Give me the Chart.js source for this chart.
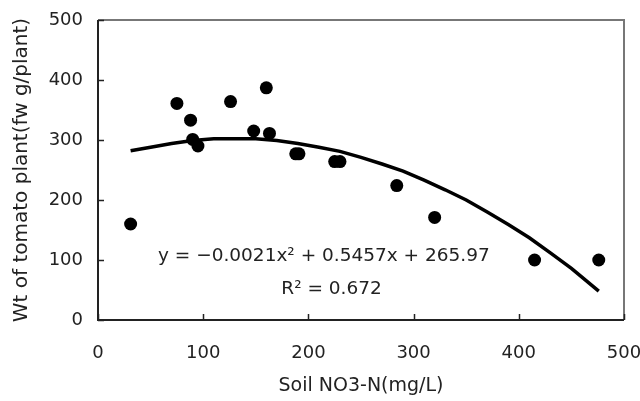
<!DOCTYPE html>
<html>
<head>
<meta charset="utf-8">
<script src="https://cdn.jsdelivr.net/npm/chart.js@4.4.1/dist/chart.umd.min.js"></script>
<style>
  html, body { margin: 0; padding: 0; background: #fff; }
</style>
</head>
<body>
<canvas id="chart" width="640" height="401"></canvas>
<script>
// measured points
const soilNO3 = [31, 75, 88, 90, 95, 126, 148, 160, 163, 188, 191, 225, 230, 284, 320, 415, 476];
const plantWt = [160, 361, 333, 301, 290, 364, 315, 387, 311, 277, 277, 264, 264, 224, 171, 100, 100];

// trend line
const trendX = [31, 50, 70, 90, 110, 130, 150, 170, 190, 210, 230, 250, 270, 290, 310, 330, 350, 370, 390, 410, 430, 450, 476];
const trendY = [282, 288, 294, 299, 302, 302, 302, 299, 294, 288, 281, 271, 260, 248, 233, 217, 200, 180, 159, 137, 112, 86, 48];

const xTicks = [0, 100, 200, 300, 400, 500];
const yTicks = [0, 100, 200, 300, 400, 500];

const xTitle = 'Soil NO3-N(mg/L)';
const yTitle = 'Wt of tomato plant(fw g/plant)';
const eqText = 'y = \u22120.0021x\u00B2 + 0.5457x + 265.97';
const r2Text = 'R\u00B2 = 0.672';

const textColor = '#222';
const fontFamily = '"DejaVu Sans", sans-serif';

const framePlugin = {
  id: 'frame',
  afterDraw(chart) {
    const {ctx, chartArea: a, scales: {x, y}} = chart;
    ctx.save();
    // top / right border of plot area
    ctx.strokeStyle = '#777';
    ctx.lineWidth = 2;
    ctx.beginPath();
    ctx.moveTo(a.left, a.top);
    ctx.lineTo(a.right, a.top);
    ctx.lineTo(a.right, a.bottom);
    ctx.stroke();
    // axes
    ctx.strokeStyle = '#222';
    ctx.beginPath();
    ctx.moveTo(a.left, a.top);
    ctx.lineTo(a.left, a.bottom);
    ctx.lineTo(a.right, a.bottom);
    ctx.stroke();
    // inside tick marks
    ctx.lineWidth = 1.5;
    ctx.beginPath();
    xTicks.forEach(v => {
      const px = Math.round(x.getPixelForValue(v)) + 0.5;
      ctx.moveTo(px, a.bottom);
      ctx.lineTo(px, a.bottom - 6);
    });
    yTicks.forEach(v => {
      const py = Math.round(y.getPixelForValue(v)) + 0.5;
      ctx.moveTo(a.left, py);
      ctx.lineTo(a.left + 6, py);
    });
    ctx.stroke();
    // trendline label
    ctx.fillStyle = textColor;
    ctx.font = '18.5px ' + fontFamily;
    ctx.textBaseline = 'middle';
    ctx.textAlign = 'left';
    ctx.fillText(eqText, x.getPixelForValue(57), y.getPixelForValue(107));
    ctx.textAlign = 'center';
    ctx.fillText(r2Text, x.getPixelForValue(222), y.getPixelForValue(52));
    ctx.restore();
  }
};

new Chart(document.getElementById('chart'), {
  type: 'scatter',
  data: {
    datasets: [
      {
        label: 'Trend',
        data: trendX.map((v, i) => ({x: v, y: trendY[i]})),
        showLine: true,
        borderColor: '#000',
        borderWidth: 3.5,
        pointRadius: 0,
        tension: 0,
        order: 2
      },
      {
        label: 'Wt',
        data: soilNO3.map((v, i) => ({x: v, y: plantWt[i]})),
        backgroundColor: '#000',
        borderColor: '#000',
        pointRadius: 6.5,
        borderWidth: 0,
        order: 1
      }
    ]
  },
  options: {
    responsive: false,
    animation: false,
    devicePixelRatio: 1,
    layout: { padding: { top: 20, right: 16, left: 0, bottom: 0 } },
    plugins: {
      legend: { display: false },
      tooltip: { enabled: false }
    },
    scales: {
      x: {
        type: 'linear',
        min: 0,
        max: 500,
        afterBuildTicks: s => { s.ticks = xTicks.map(v => ({value: v})); },
        afterFit: s => { s.height = 81; s.paddingLeft = 0; s.paddingRight = 0; },
        grid: { display: false, drawTicks: false },
        border: { display: false },
        ticks: { color: textColor, padding: 23, maxRotation: 0, font: { family: fontFamily, size: 18 } },
        title: {
          display: true,
          text: xTitle,
          color: textColor,
          font: { family: fontFamily, size: 19 },
          padding: { top: 0, bottom: 4 }
        }
      },
      y: {
        type: 'linear',
        min: 0,
        max: 500,
        afterBuildTicks: s => { s.ticks = yTicks.map(v => ({value: v})); },
        afterFit: s => { s.width = 98; s.paddingTop = 0; s.paddingBottom = 0; },
        grid: { display: false, drawTicks: false },
        border: { display: false },
        ticks: { color: textColor, padding: 15, font: { family: fontFamily, size: 18 } },
        title: {
          display: true,
          text: yTitle,
          color: textColor,
          font: { family: fontFamily, size: 20 },
          padding: { top: 10, bottom: 0 }
        }
      }
    }
  },
  plugins: [framePlugin]
});
</script>
</body>
</html>
